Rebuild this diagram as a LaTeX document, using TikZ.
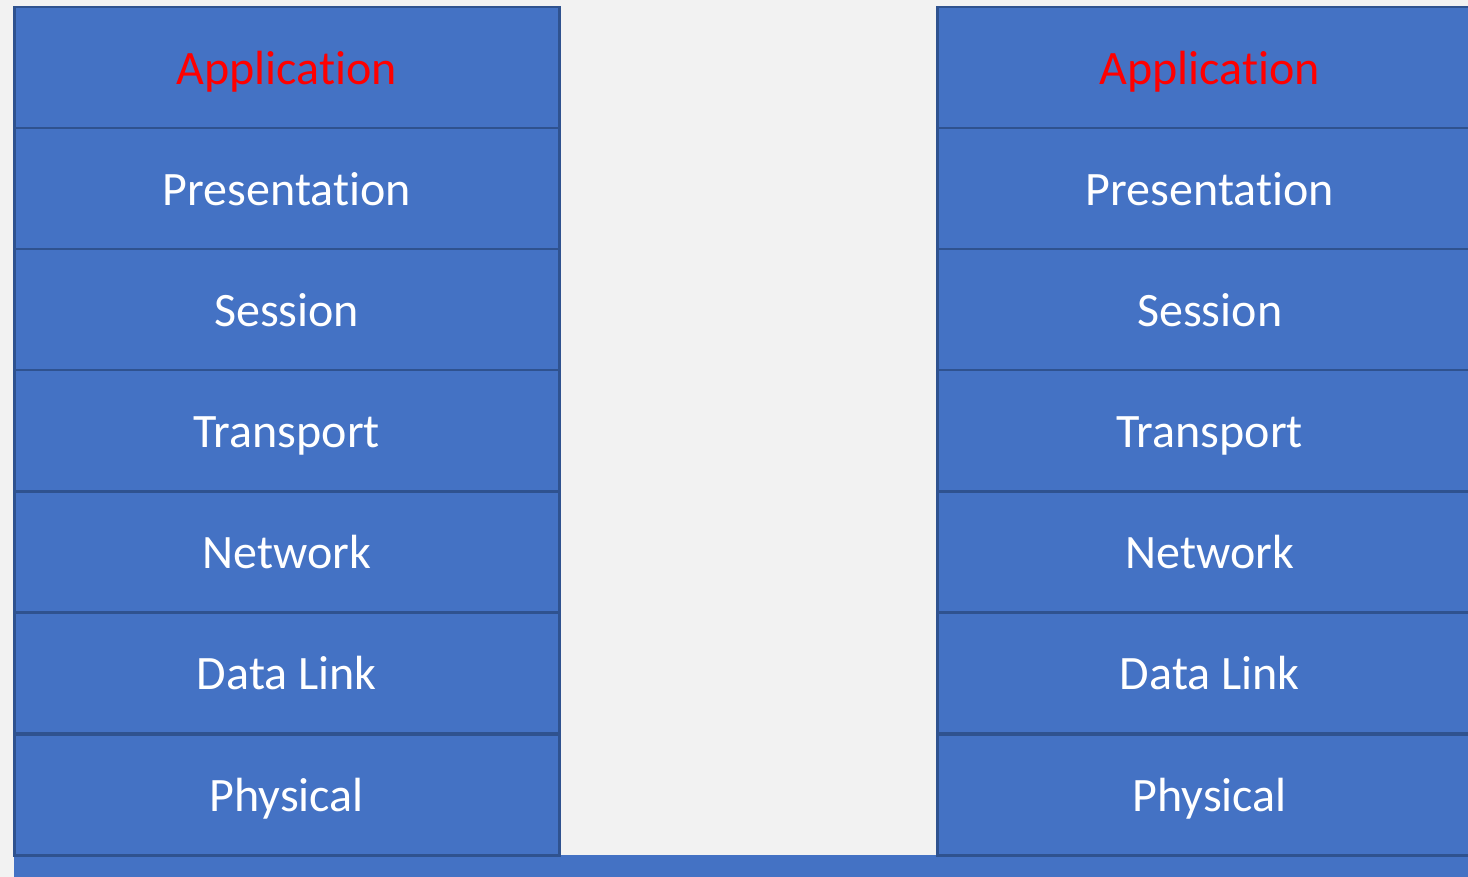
\documentclass[tikz,border=0pt]{standalone}
\usepackage{fontspec}
\setmainfont[Ligatures=NoCommon]{Carlito}
\definecolor{bg}{HTML}{F2F2F2}
\definecolor{fillblue}{HTML}{4472C4}
\definecolor{edgeblue}{HTML}{2F528F}
\definecolor{appred}{HTML}{FF0000}
\begin{document}
\begin{tikzpicture}[x=1pt,y=-1pt,
  layer/.style={draw=edgeblue,line width=2.5pt,fill=fillblue,minimum width=545pt,minimum height=121pt,inner sep=0pt,text height=40pt,text depth=7pt,text=white,font=\fontsize{48}{50}\selectfont,anchor=north west},
  apptext/.style={text=appred}]
\fill[bg] (0,0) rectangle (1468,877);
\useasboundingbox (0,0) rectangle (1468,877);
\fill[fillblue] (14,855) rectangle (1468,877);
\foreach \side/\x in {L/13,R/936}{
  \node[layer,apptext] (\side1) at (\x,6) {Application};
  \node[layer] (\side2) at (\x,127) {Presentation};
  \node[layer] (\side3) at (\x,248) {Session};
  \node[layer] (\side4) at (\x,369) {Transport};
  \node[layer] (\side5) at (\x,490) {Network};
  \node[layer] (\side6) at (\x,611) {Data Link};
  \node[layer] (\side7) at (\x,733) {Physical};
}
\end{tikzpicture}
\end{document}
